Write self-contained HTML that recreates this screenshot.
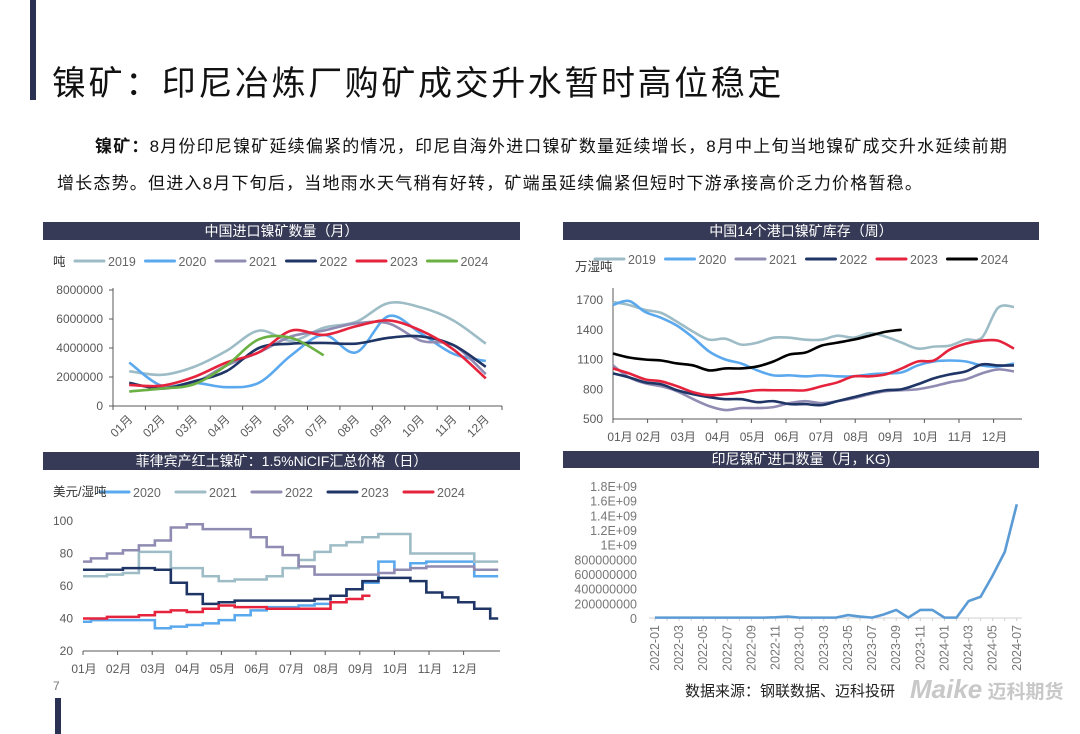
<!DOCTYPE html>
<html><head><meta charset="utf-8">
<style>
body{margin:0;background:#fff;}
#page{position:relative;width:1080px;height:734px;overflow:hidden;background:#fff;font-family:"Liberation Sans","Noto Sans CJK SC",sans-serif;}
.abs{position:absolute;}
</style></head>
<body>
<div id="page">
<div class="abs" style="left:30px;top:0;width:6px;height:100px;background:#2a3152"></div>
<div class="abs" style="left:55px;top:698px;width:6px;height:36px;background:#2a3152"></div>
<div class="abs" style="left:52px;top:56px;font-size:34px;color:#111;white-space:nowrap;letter-spacing:2.6px">镍矿：印尼冶炼厂购矿成交升水暂时高位稳定</div>
<div class="abs" style="left:57px;top:128px;font-size:17px;line-height:37px;color:#111;letter-spacing:1.2px;white-space:nowrap"><span style="padding-left:38px"></span><b>镍矿：</b>8月份印尼镍矿延续偏紧的情况，印尼自海外进口镍矿数量延续增长，8月中上旬当地镍矿成交升水延续前期<br>增长态势。但进入8月下旬后，当地雨水天气稍有好转，矿端虽延续偏紧但短时下游承接高价乏力价格暂稳。</div>
<div class="abs" style="left:53px;top:679px;font-size:12px;color:#777">7</div>
<div class="abs" style="left:685px;top:680px;font-size:15px;color:#222">数据来源：钢联数据、迈科投研</div>
<div class="abs" style="left:910px;top:674px;font-size:26px;font-weight:bold;font-style:italic;color:#c8c8c8;white-space:nowrap">Maike<span style="font-size:19px;font-style:normal"> 迈科期货</span></div>
<svg id="svg" class="abs" style="left:0;top:0" width="1080" height="734"></svg>
</div>
<script>
// ---------- Chart 1 data: China nickel ore imports (million t) ----------
const c1Months=['01月','02月','03月','04月','05月','06月','07月','08月','09月','10月','11月','12月'];
const c1Years=['2019','2020','2021','2022','2023','2024'];
const c1_2019=[2.4,2.15,2.7,3.8,5.2,4.5,5.4,5.8,7.1,6.8,5.9,4.3];
const c1_2020=[3.0,1.4,1.6,1.3,1.6,3.5,4.9,3.7,6.2,5.0,3.6,3.1];
const c1_2021=[1.5,1.3,1.6,2.8,3.7,4.8,5.2,5.7,5.7,4.5,4.2,2.2];
const c1_2022=[1.6,1.2,1.7,2.4,4.0,4.3,4.35,4.3,4.7,4.8,4.2,2.7];
const c1_2023=[1.45,1.4,2.0,3.0,3.7,5.2,4.9,5.5,5.9,5.2,3.9,1.9];
const c1_2024=[1.0,1.2,1.5,2.8,4.6,4.7,3.5];
const c1Ticks=[0,2000000,4000000,6000000,8000000];
// ---------- Chart 2 data: 14-port inventory (biweekly, 万湿吨) ----------
const c2_2019=[1680,1650,1600,1570,1480,1380,1300,1310,1250,1270,1320,1320,1300,1300,1340,1320,1365,1330,1270,1210,1230,1240,1300,1320,1620,1630];
const c2_2020=[1650,1690,1580,1520,1440,1320,1180,1100,1060,990,940,940,930,940,930,930,950,960,970,1040,1080,1090,1080,1040,1030,1060];
const c2_2021=[1040,920,860,830,780,700,630,590,610,610,620,660,680,660,680,710,750,780,790,800,830,870,900,960,1000,980];
const c2_2022=[960,920,870,850,790,750,720,700,700,670,680,650,650,640,680,720,760,790,800,850,910,950,980,1050,1040,1040];
const c2_2023=[1010,960,900,880,830,770,740,750,770,790,790,790,790,830,870,930,930,950,1010,1080,1090,1200,1260,1290,1290,1210];
const c2_2024=[1160,1120,1100,1090,1060,1040,990,1010,1010,1030,1080,1150,1170,1240,1270,1300,1340,1380,1400];
const c2Ticks=[500,800,1100,1400,1700];
// ---------- Chart 3 data: Philippine laterite 1.5% CIF price (biweekly) ----------
const c3_2020=[38,39,39,39,39,34,35,36,37,39,42,45,47,47,48,49,54,58,62,75,70,74,75,75,75,66,66];
const c3_2021=[66,66,67,68,81,81,71,71,66,63,64,64,66,71,76,81,85,87,90,92,92,80,80,80,80,75,75];
const c3_2022=[75,77,80,82,85,88,96,98,95,95,95,90,84,79,72,67,67,67,67,68,70,71,72,72,72,70,70];
const c3_2023=[70,70,70,71,71,70,62,55,49,50,51,51,51,51,51,52,54,58,63,65,65,63,56,53,50,46,40];
const c3_2024=[40,40,41,41,42,44,45,44,46,48,47,47,46,46,46,46,50,52,54];
const c3Ticks=[20,40,60,80,100];
// ---------- Chart 4 data: Indonesia ore imports (E8 kg) ----------
const c4Cats=['2022-01','2022-02','2022-03','2022-04','2022-05','2022-06','2022-07','2022-08','2022-09','2022-10','2022-11','2022-12','2023-01','2023-02','2023-03','2023-04','2023-05','2023-06','2023-07','2023-08','2023-09','2023-10','2023-11','2023-12','2024-01','2024-02','2024-03','2024-04','2024-05','2024-06','2024-07'];
const c4Vals=[0.05,0.05,0.05,0.05,0.05,0.05,0.05,0.05,0.05,0.05,0.1,0.2,0.05,0.05,0.05,0.05,0.4,0.2,0.05,0.5,1.1,0.05,1.1,1.1,0.05,0.05,2.3,2.9,5.8,9.0,15.5];
const c4TickLabels=['0','200000000','400000000','600000000','800000000','1E+09','1.2E+09','1.4E+09','1.6E+09','1.8E+09'];

const NS='http://www.w3.org/2000/svg';
const svg=document.getElementById('svg');
function mk(tag,attrs,parent){const e=document.createElementNS(NS,tag);for(const k in attrs)e.setAttribute(k,attrs[k]);(parent||svg).appendChild(e);return e;}
function txt(x,y,s,attrs){const t=mk('text',Object.assign({x:x,y:y,'font-size':12,fill:'#595959','font-family':'Liberation Sans, Noto Sans CJK SC, sans-serif'},attrs||{}));t.textContent=s;return t;}
function smooth(pts){let d='M'+pts[0][0]+','+pts[0][1];for(let i=0;i<pts.length-1;i++){const p0=pts[i-1]||pts[i],p1=pts[i],p2=pts[i+1],p3=pts[i+2]||p2;const c1x=p1[0]+(p2[0]-p0[0])/6,c1y=p1[1]+(p2[1]-p0[1])/6,c2x=p2[0]-(p3[0]-p1[0])/6,c2y=p2[1]-(p3[1]-p1[1])/6;d+=' C'+c1x+','+c1y+' '+c2x+','+c2y+' '+p2[0]+','+p2[1];}return d;}
function poly(pts){return 'M'+pts.map(p=>p[0]+','+p[1]).join(' L');}
function step(pts){let d='M'+pts[0][0]+','+pts[0][1];for(let i=1;i<pts.length;i++){const mx=(pts[i-1][0]+pts[i][0])/2;d+=' L'+mx+','+pts[i-1][1]+' L'+mx+','+pts[i][1]+' L'+pts[i][0]+','+pts[i][1];}return d;}
function header(x,y,w,h,s){const r=mk('rect',{x:x,y:y,width:w,height:h,fill:'#363a56'});


const t=txt(x+w/2,y+h-4,s,{fill:'#fff','font-size':14,'text-anchor':'middle'});

}
function legend(x0,y,dx,names,cols){names.forEach((n,i)=>{const x=x0+i*dx;const l=mk('line',{x1:x,y1:y,x2:x+29,y2:y,stroke:cols[i],'stroke-width':3,'stroke-linecap':'round'});


const t=txt(x+33,y+5,n,{'font-size':12.5,fill:'#666'});

});}
const COL={y19:'#9dbcc6',y20:'#5aa8ee',y21:'#8f8bb2',y22:'#1f3566',y23:'#e5233c',g24:'#6bb043',k24:'#000'};

// ----- Chart 1 -----
header(43,222,477,18,'中国进口镍矿数量（月）');
txt(53,266,'吨',{'font-size':12.5,fill:'#333'});
legend(75,261,70.5,c1Years,[COL.y19,COL.y20,COL.y21,COL.y22,COL.y23,COL.g24]);
{const X0=113,X1=502,Y0=406,Y1=290;const bw=(X1-X0)/12;
const xs=i=>X0+bw*(i+0.5), ys=v=>Y0-(v/8)*(Y0-Y1);
mk('line',{x1:X0,y1:Y1-2,x2:X0,y2:Y0,stroke:'#595959','stroke-width':1});
mk('line',{x1:X0,y1:Y0,x2:X1,y2:Y0,stroke:'#595959','stroke-width':1});
c1Ticks.forEach(t=>{const y=Y0-(t/8000000)*(Y0-Y1);mk('line',{x1:X0-4,y1:y,x2:X0,y2:y,stroke:'#595959'});txt(X0-10,y+4,String(t),{'text-anchor':'end','font-size':12});});
for(let i=0;i<=12;i++){const x=X0+bw*i;mk('line',{x1:x,y1:Y0,x2:x,y2:Y0+4,stroke:'#595959'});}
c1Months.forEach((m,i)=>{const x=xs(i)+4,y=Y0+14;txt(x,y,m,{'text-anchor':'end',transform:'rotate(-45 '+x+' '+y+')','font-size':12});});
[[c1_2019,COL.y19],[c1_2020,COL.y20],[c1_2021,COL.y21],[c1_2022,COL.y22],[c1_2023,COL.y23],[c1_2024,COL.g24]].forEach((s,k)=>{const p=mk('path',{d:smooth(s[0].map((v,i)=>[xs(i),ys(v)])),fill:'none',stroke:s[1],'stroke-width':2.6});

});}

// ----- Chart 2 -----
header(563,222,476,18,'中国14个港口镍矿库存（周）');
txt(575,271,'万湿吨',{'font-size':12.5,fill:'#333'});
legend(595,259,70.5,c1Years,[COL.y19,COL.y20,COL.y21,COL.y22,COL.y23,COL.k24]);
{const X0=613,X1=1022,Y0=419,Y1=300;const mw=34.6;
const xs=w=>X0+w*2*(409/51), ys=v=>Y0-(v-500)/1200*(Y0-Y1);
mk('line',{x1:X0,y1:288,x2:X0,y2:Y0,stroke:'#595959'});
mk('line',{x1:X0,y1:Y0,x2:X1,y2:Y0,stroke:'#595959'});
c2Ticks.forEach(t=>{const y=ys(t);txt(X0-10,y+4,String(t),{'text-anchor':'end','font-size':12});});
c1Months.forEach((m,i)=>{const x=X0+mw*i;mk('line',{x1:x,y1:Y0,x2:x,y2:Y0+4,stroke:'#595959'});txt(x+(i===0?7:1),Y0+22,m,{'text-anchor':'middle','font-size':12});});
[[c2_2019,COL.y19],[c2_2020,COL.y20],[c2_2021,COL.y21],[c2_2022,COL.y22],[c2_2023,COL.y23],[c2_2024,COL.k24]].forEach((s,k)=>{const p=mk('path',{d:smooth(s[0].map((v,i)=>[xs(i),ys(v)])),fill:'none',stroke:s[1],'stroke-width':2.6});

});}

// ----- Chart 3 -----
header(43,452,477,18,'菲律宾产红土镍矿：1.5%NiCIF汇总价格（日）');
const c3Years=['2020','2021','2022','2023','2024'];
legend(100,492,76,c3Years,[COL.y20,COL.y19,COL.y21,COL.y22,COL.y23]);
txt(53,496,'美元/湿吨',{'font-size':12.5,fill:'#333'});
{const X0=83,X1=500,Y0=651,Y1=521;const mw=34.6;
const xs=w=>X0+w*2*(mw*12/52), ys=v=>Y0-(v-20)/80*(Y0-Y1);
mk('line',{x1:X0,y1:Y0,x2:X1,y2:Y0,stroke:'#595959'});
c3Ticks.forEach(t=>{const y=ys(t);txt(73,y+4,String(t),{'text-anchor':'end','font-size':12});});
c1Months.forEach((m,i)=>{const x=X0+mw*i;mk('line',{x1:x,y1:Y0,x2:x,y2:Y0+4,stroke:'#595959'});txt(x+1,Y0+22,m,{'text-anchor':'middle','font-size':12});});
[[c3_2020,COL.y20],[c3_2021,COL.y19],[c3_2022,COL.y21],[c3_2023,COL.y22],[c3_2024,COL.y23]].forEach((s,k)=>{const p=mk('path',{d:step(s[0].map((v,i)=>[xs(i),ys(v)])),fill:'none',stroke:s[1],'stroke-width':2.6});

});}

// ----- Chart 4 -----
header(563,451,476,17,'印尼镍矿进口数量（月，KG)');
{const X0=649,X1=1022,Y0=618,Y1=486;const bw=12.06;
const xs=i=>655+bw*i, ys=v=>Y0-(v/18)*(Y0-Y1);
mk('line',{x1:X0,y1:Y0,x2:X1,y2:Y0,stroke:'#d0d0d0'});
c4TickLabels.forEach((t,i)=>{const y=Y0-i*(Y0-Y1)/9;txt(637,y+5,t,{'text-anchor':'end','font-size':12.5,fill:'#777'});});
c4Cats.forEach((c,i)=>{const x=xs(i);mk('line',{x1:x,y1:Y0,x2:x,y2:Y0+3,stroke:'#d0d0d0'});if(i%2===0){txt(x+4,Y0+7,c,{'text-anchor':'end',transform:'rotate(-90 '+(x+4)+' '+(Y0+7)+')','font-size':12.5,fill:'#777'});}});
const p=mk('path',{d:poly(c4Vals.map((v,i)=>[xs(i),ys(v)])),fill:'none',stroke:'#5b9bd5','stroke-width':2.6,'stroke-linejoin':'round'});

}
</script>
</body></html>
